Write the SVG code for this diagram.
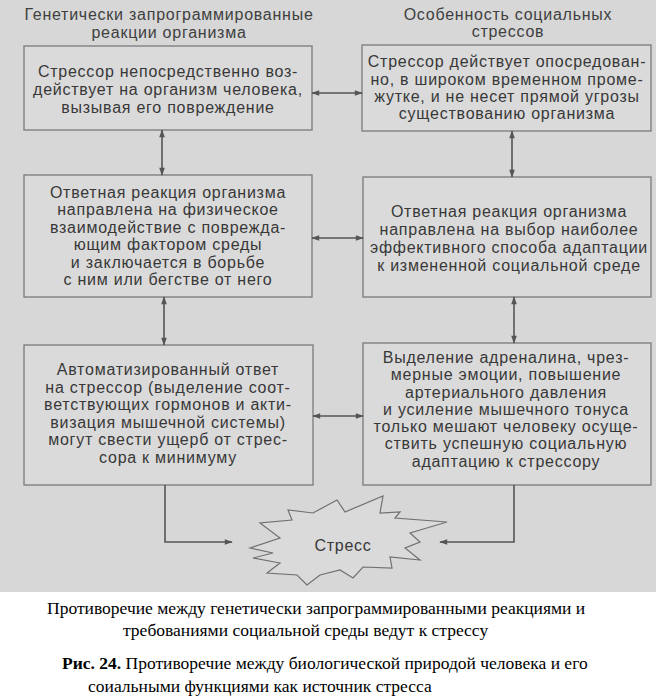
<svg xmlns="http://www.w3.org/2000/svg" width="656" height="700" viewBox="0 0 656 700">
<defs>
<style>
.bg{fill:#d7d7d7}
.box{fill:#dadada;stroke:#7a7a7a;stroke-width:1.3}
.t{font-family:"Liberation Sans",Arial,sans-serif;font-size:16px;letter-spacing:0.75px;fill:#383838;text-anchor:middle}
.h{font-family:"Liberation Sans",Arial,sans-serif;font-size:16px;letter-spacing:0.75px;fill:#404040;text-anchor:middle}
.c{font-family:"Liberation Serif","Times New Roman",serif;font-size:17.5px;fill:#000}
.ln{fill:none;stroke:#555;stroke-width:1.6}
.star{fill:#dadada;stroke:#707070;stroke-width:1.2}
</style>
<marker id="ah2" viewBox="0 0 10 10" refX="9" refY="5" markerWidth="14" markerHeight="8" orient="auto-start-reverse" markerUnits="userSpaceOnUse">
<path d="M0,1.5 L10,5 L0,8.5 Z" fill="#555"/>
</marker>
</defs>
<rect class="bg" x="0" y="0" width="656" height="592"/>

<g id="headings">
<text class="h" x="169" y="20">Генетически запрограммированные</text>
<text class="h" x="169" y="38">реакции организма</text>
<text class="h" x="508" y="20">Особенность социальных</text>
<text class="h" x="508" y="37">стрессов</text>
</g>

<g id="n1">
<rect class="box" x="24" y="46" width="288" height="84"/>
<text class="t" x="168" y="77">Стрессор непосредственно воз-</text>
<text class="t" x="168" y="95">действует на организм человека,</text>
<text class="t" x="168" y="113">вызывая его повреждение</text>
</g>
<g id="n2">
<rect class="box" x="362" y="45" width="289" height="86"/>
<text class="t" x="507" y="67">Стрессор действует опосредован-</text>
<text class="t" x="507" y="85">но, в широком временном проме-</text>
<text class="t" x="507" y="102">жутке, и не несет прямой угрозы</text>
<text class="t" x="507" y="119">существованию организма</text>
</g>
<g id="n3">
<rect class="box" x="24" y="175" width="288" height="122"/>
<text class="t" x="168" y="198">Ответная реакция организма</text>
<text class="t" x="168" y="215">направлена на физическое</text>
<text class="t" x="168" y="233">взаимодействие с поврежда-</text>
<text class="t" x="168" y="250">ющим фактором среды</text>
<text class="t" x="168" y="268">и заключается в борьбе</text>
<text class="t" x="168" y="285">с ним или бегстве от него</text>
</g>
<g id="n4">
<rect class="box" x="363" y="177" width="288" height="120"/>
<text class="t" x="509" y="217">Ответная реакция организма</text>
<text class="t" x="509" y="235">направлена на выбор наиболее</text>
<text class="t" x="509" y="253">эффективного способа адаптации</text>
<text class="t" x="509" y="271">к измененной социальной среде</text>
</g>
<g id="n5">
<rect class="box" x="24" y="345" width="289" height="140"/>
<text class="t" x="168" y="375">Автоматизированный ответ</text>
<text class="t" x="168" y="393">на стрессор (выделение соот-</text>
<text class="t" x="168" y="410">ветствующих гормонов и акти-</text>
<text class="t" x="168" y="428">визация мышечной системы)</text>
<text class="t" x="168" y="445">могут свести ущерб от стрес-</text>
<text class="t" x="168" y="463">сора к минимуму</text>
</g>
<g id="n6">
<rect class="box" x="363" y="343" width="288" height="142"/>
<text class="t" x="506" y="363">Выделение адреналина, чрез-</text>
<text class="t" x="506" y="380">мерные эмоции, повышение</text>
<text class="t" x="506" y="398">артериального давления</text>
<text class="t" x="506" y="415">и усиление мышечного тонуса</text>
<text class="t" x="506" y="432">только мешают человеку осуще-</text>
<text class="t" x="506" y="449">ствить успешную социальную</text>
<text class="t" x="506" y="467">адаптацию к стрессору</text>
</g>
<g id="stress">
<polygon class="star" points="250,548 280,538 260,523 292,520 288,510 313,513 337,500 345,512 383,496 380,513 400,512 395,518 447,522 410,533 420,542 405,548 420,560 390,557 392,568 363,567 353,578 340,570 320,575 307,585 297,575 267,573 280,563 253,558 273,553"/>
<text class="t" x="343" y="551">Стресс</text>
</g>

<g id="connectors">
<line class="ln" x1="312" y1="93" x2="362" y2="93" marker-start="url(#ah2)" marker-end="url(#ah2)"/>
<line class="ln" x1="312" y1="238" x2="363" y2="238" marker-start="url(#ah2)" marker-end="url(#ah2)"/>
<line class="ln" x1="313" y1="416" x2="363" y2="416" marker-start="url(#ah2)" marker-end="url(#ah2)"/>
<line class="ln" x1="162" y1="130" x2="162" y2="175" marker-start="url(#ah2)" marker-end="url(#ah2)"/>
<line class="ln" x1="512" y1="131" x2="512" y2="177" marker-start="url(#ah2)" marker-end="url(#ah2)"/>
<line class="ln" x1="164" y1="297" x2="164" y2="345" marker-start="url(#ah2)" marker-end="url(#ah2)"/>
<line class="ln" x1="514" y1="297" x2="514" y2="343" marker-start="url(#ah2)" marker-end="url(#ah2)"/>
<polyline class="ln" points="165,485 165,542 232,542" marker-end="url(#ah2)"/>
<polyline class="ln" points="514,485 514,542 440,542" marker-end="url(#ah2)"/>
</g>

<g id="caption">
<text class="c" x="47" y="614">Противоречие между генетически запрограммированными реакциями и</text>
<text class="c" x="123" y="636">требованиями социальной среды ведут к стрессу</text>
<text class="c" x="62" y="669"><tspan font-weight="bold">Рис. 24.</tspan> Противоречие между биологической природой человека и его</text>
<text class="c" x="88" y="692">соиальными функциями как источник стресса</text>
</g>
</svg>
